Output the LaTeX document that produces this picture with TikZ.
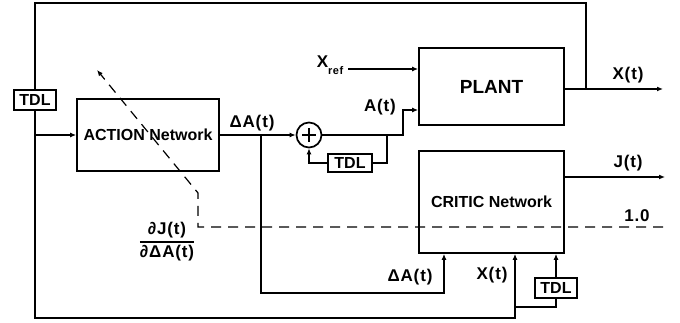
\documentclass[tikz,border=0pt]{standalone}
\usepackage{fontspec}
\setmainfont{Liberation Sans}
\usetikzlibrary{arrows.meta}
\newcommand\lblfont{\bfseries\fontsize{16}{19}\selectfont}
\newcommand\txtfont{\bfseries\fontsize{17}{20}\selectfont\addfontfeatures{LetterSpace=5}}
\newcommand\plantfont{\bfseries\fontsize{19}{22}\selectfont}
\begin{document}
\begin{tikzpicture}[x=1pt,y=-1pt, line width=1.5pt,
  box/.style={draw, line width=1.7pt, inner sep=0pt, font=\lblfont},
  tdl/.style={draw, line width=1.7pt, minimum width=42pt, minimum height=20pt, inner sep=0pt, font=\lblfont},
  arr/.style={-{Latex[length=6pt,width=5pt]}},
  lab/.style={font=\txtfont, inner sep=0pt},
  dsh/.style={dash pattern=on 10pt off 7pt, line width=1.2pt}]
\useasboundingbox (0,0) rectangle (680,323);
% blocks
\node[tdl] (t1) at (35,100) {TDL};
\node[box, minimum width=142pt, minimum height=72pt] (act) at (148,135) {ACTION Network};
\node[draw, circle, minimum size=25pt, inner sep=0pt, line width=1.7pt,
  path picture={\draw[line width=1.7pt] (path picture bounding box.center) +(-7pt,0pt) -- +(7pt,0pt)
                (path picture bounding box.center) +(0pt,-7pt) -- +(0pt,7pt);}] (plus) at (309,135) {};
\node[tdl, minimum width=44pt, minimum height=18pt] (t2) at (350,163) {TDL};
\node[box, minimum width=145pt, minimum height=77pt, font=\plantfont] (plant) at (491.5,86.5) {PLANT};
\node[box, minimum width=145pt, minimum height=102pt] (critic) at (491.5,202) {CRITIC Network};
\node[tdl] (t3) at (556,288) {TDL};
% coordinates
\coordinate (xout) at (663,89);
\coordinate (jout) at (665,177);
\coordinate (fb) at (586,89);
% connectors
\draw[arr] (plant.east |- xout) -- (xout);
\draw[line width=1.1pt] (fb) -- (586,3) -| (t1.north);
\draw[arr] (t1.south) |- (515,318) -- (critic.south -| 515,0);
\draw[arr] (35,135) -- (act.west);
\draw[arr] (act.east) -- (plus.west);
\draw[arr] (261,135) -- (261,293) -| (critic.south -| 444,0);
\draw[arr] (plus.east) -- (403,135) -- (403,110) -- (plant.west |- 0,110);
\draw (387,135) |- (t2.east);
\draw[arr] (t2.west) -| (plus.south);
\draw[arr] (348,69) -- (plant.west |- 0,69);
\draw[arr] (critic.east |- jout) -- (jout);
\draw (515,307) -| (t3.south);
\draw[arr] (t3.north) -- (t3.north |- critic.south);
\draw[dsh, arr] (663,227) -- (198,227) -- (198,193) -- (97,70);
% labels
\node[lab] (dA) at (252,123) {ΔA(t)};
\node[lab] (At) at (380,107) {A(t)};
\node[lab, anchor=base east] (xref) at (344,68) {X\raisebox{-7pt}{\bfseries\fontsize{11}{11}\selectfont ref}};
\node[lab] (dA2) at (410,277) {ΔA(t)};
\node[lab] (Xt2) at (492,275) {X(t)};
\node[lab] (Xt) at (628,75) {X(t)};
\node[lab] (Jt) at (628,163) {J(t)};
\node[lab] (one) at (637,216) {1.0};
\node[lab] (frac) at (167,242) {\setlength\arrayrulewidth{1.2pt}\renewcommand\arraystretch{1.1}\begin{tabular}{@{}c@{}}∂J(t)\\\hline ∂ΔA(t)\end{tabular}};
\end{tikzpicture}
\end{document}
